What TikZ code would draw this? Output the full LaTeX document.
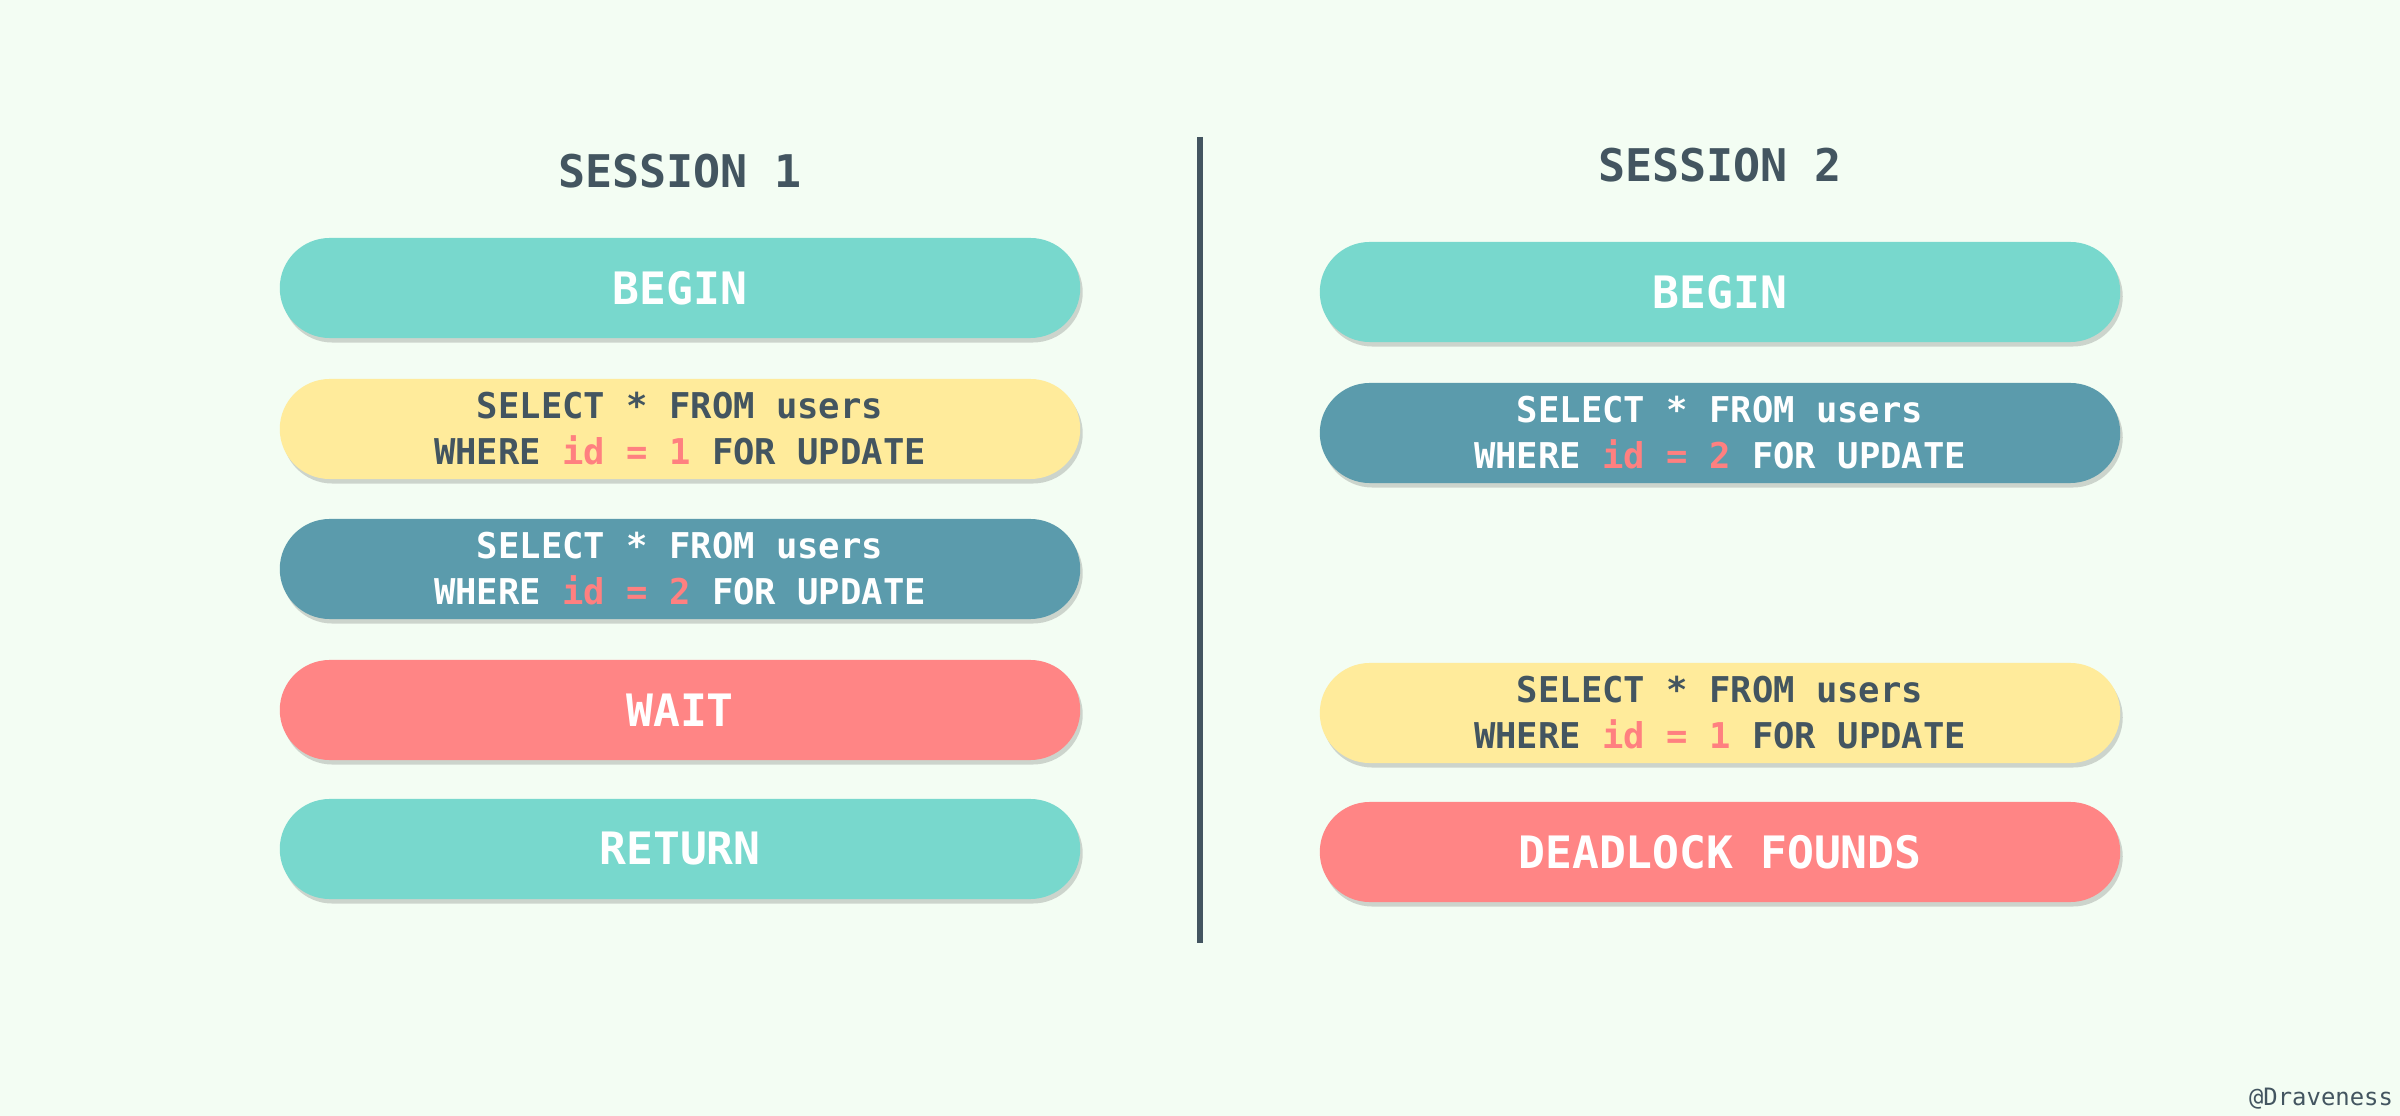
\documentclass[tikz,border=0pt]{standalone}
\usepackage{fontspec}
\setmonofont{DejaVu Sans Mono}
\usetikzlibrary{shadows}
\definecolor{bgmint}{HTML}{F3FDF3}
\definecolor{ink}{HTML}{435560}
\definecolor{pteal}{HTML}{78D8CD}
\definecolor{pyellow}{HTML}{FFEB9B}
\definecolor{pblue}{HTML}{5B9BAC}
\definecolor{pred}{HTML}{FF8585}
\definecolor{idred}{HTML}{FF8080}
\newcommand{\sqlwhere}[1]{WHERE {\color{idred}id = #1} FOR UPDATE}
\newcommand{\sqlselect}{SELECT * FROM users}
\tikzset{
  pill/.style={rectangle, rounded corners=0.5cm, minimum width=8cm, minimum height=1cm,
    inner sep=0pt, align=center,
    drop shadow={shadow xshift=0.025cm, shadow yshift=-0.045cm, fill=black!80, opacity=0.2}},
  word/.style={pill, font=\ttfamily\bfseries\fontsize{12.7}{15}\selectfont, text=white},
  query/.style={pill, font=\ttfamily\bfseries\fontsize{10.1}{13.1}\selectfont},
  title/.style={font=\ttfamily\bfseries\fontsize{12.8}{15}\selectfont, text=ink}
}
\begin{document}
\begin{tikzpicture}[x=0.01cm,y=-0.01cm]
\fill[bgmint] (0,0) rectangle (2400,1116);
\useasboundingbox (0,0) rectangle (2400,1116);

\node[title] (s1) at (680,171) {SESSION 1};
\node[title] (s2) at (1720,165) {SESSION 2};
\coordinate (top) at (1200,137);
\coordinate (bot) at (1200,943);
\draw[ink, line width=0.06cm] (top) -- (bot);

\node[word, fill=pteal] (b1) at (680,288) {BEGIN};
\node[query, fill=pyellow, text=ink] (q11) at (680,429) {\sqlselect\\\sqlwhere{1}};
\node[query, fill=pblue, text=white] (q12) at (680,569) {\sqlselect\\\sqlwhere{2}};
\node[word, fill=pred] (w1) at (680,710) {WAIT};
\node[word, fill=pteal] (r1) at (680,849) {RETURN};

\node[word, fill=pteal] (b2) at (1720,292) {BEGIN};
\node[query, fill=pblue, text=white] (q22) at (1720,433) {\sqlselect\\\sqlwhere{2}};
\node[query, fill=pyellow, text=ink] (q21) at (1720,713) {\sqlselect\\\sqlwhere{1}};
\node[word, fill=pred] (d2) at (1720,852) {DEADLOCK FOUNDS};

\node[text=ink, font=\ttfamily\fontsize{6.8}{8}\selectfont] (mark) at (2321,1099) {@Draveness};
\end{tikzpicture}
\end{document}
